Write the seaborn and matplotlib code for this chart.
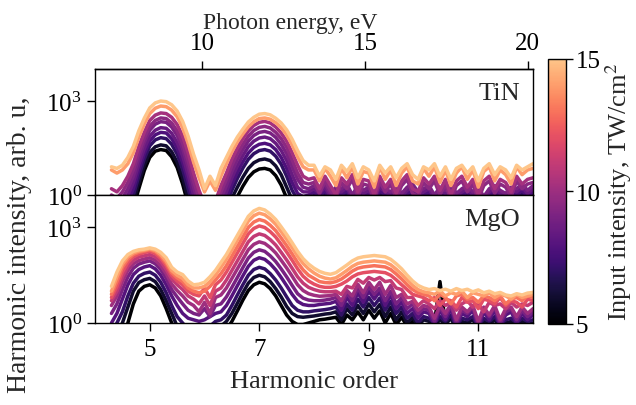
import numpy as np
import pandas as pd
import matplotlib
matplotlib.use("Agg")
import matplotlib.pyplot as plt
from matplotlib.colors import ListedColormap, Normalize
from matplotlib.cm import ScalarMappable
from matplotlib.ticker import NullLocator
import seaborn as sns

# shared sampling grid (harmonic order) for every spectrum
harmonic = np.round(np.arange(4.3, 12.001, 0.1), 1)
ev_per_order = 1.68  # photon energy of one harmonic order, eV

# ---- TiN: log10(signal); segments = H5 | H7 | noise floor ----
tin_intensity = [5, 6, 7, 7.8, 8.5, 9, 9.5, 10.2, 14, 15]
tin_05 = ([-1, -1, -1, -0.8, -0.4, 0.2, 0.78, 1.2, 1.4, 1.45, 1.42, 1.22, 0.88, 0.35, -0.3, -0.8, -1, -1, -1, -1]
          + [-1, -0.8, -0.4, -0.05, 0.28, 0.56, 0.74, 0.83, 0.85, 0.8, 0.62, 0.32, -0.1, -0.5, -0.7, -0.6, -0.5]
          + [-0.3, -0.5, -0.2, -0.5, -0.3, -0.4, -0.2, -0.5, -0.3, -0.4, -0.3, -0.6, -0.2, -0.4, -0.5, -0.3, -0.5,
             -0.3, -0.1, -0.5, -0.4, -0.3, -0.6, -0.3, -0.4, 0.2, 0.0, -0.3, -0.2, -0.5, -0.3, -0.6, -0.4, -0.2,
             -0.4, -0.5, -0.2, -0.4, -0.3, -0.4, -0.3])
tin_06 = ([-1, -1, -0.9, -0.6, -0.2, 0.4, 0.95, 1.36, 1.54, 1.6, 1.57, 1.38, 1.05, 0.55, -0.1, -0.6, -1, -1, -1, -1]
          + [-0.9, -0.5, -0.1, 0.25, 0.57, 0.85, 1.03, 1.12, 1.15, 1.1, 0.93, 0.65, 0.25, -0.15, -0.4, -0.4, -0.3]
          + [-0.1, -0.3, 0.0, -0.35, -0.15, -0.2, 0.0, -0.4, -0.1, -0.25, -0.15, -0.45, 0.0, -0.2, -0.3, -0.1,
             -0.35, -0.15, 0.05, -0.3, -0.2, -0.1, -0.4, -0.15, -0.25, 0.0, -0.35, -0.2, -0.1, -0.3, -0.15, -0.45,
             -0.2, -0.1, -0.25, -0.35, 0.1, -0.2, -0.05, -0.25, -0.1])
tin_07 = ([-0.8, -0.9, -0.7, -0.4, 0.0, 0.6, 1.15, 1.57, 1.76, 1.83, 1.8, 1.62, 1.3, 0.82, 0.2, -0.4, -0.9, -1, -1, -1]
          + [-0.7, -0.3, 0.15, 0.53, 0.86, 1.14, 1.32, 1.42, 1.45, 1.4, 1.24, 0.98, 0.6, 0.15, -0.15, -0.2, -0.15]
          + [0.0, -0.15, 0.05, -0.25, -0.05, -0.1, 0.05, -0.3, 0.0, -0.15, -0.05, -0.35, 0.05, -0.1, -0.2, 0.0,
             -0.25, -0.05, 0.05, -0.2, -0.1, 0.0, -0.3, -0.05, -0.15, 0.05, -0.25, -0.1, 0.0, -0.2, -0.05, -0.35,
             -0.1, 0.0, -0.15, -0.25, -0.05, -0.1, 0.05, -0.15, 0.0])
tin_08 = ([-0.6, -0.7, -0.5, -0.2, 0.2, 0.8, 1.32, 1.73, 1.92, 2.0, 1.98, 1.8, 1.5, 1.05, 0.45, -0.2, -0.7, -0.9, -0.9, -0.8]
          + [-0.5, -0.1, 0.35, 0.73, 1.06, 1.34, 1.52, 1.62, 1.65, 1.6, 1.45, 1.2, 0.85, 0.4, 0.05, -0.05, 0.0]
          + [0.1, -0.05, 0.15, -0.15, 0.05, 0.0, 0.15, -0.2, 0.1, -0.05, 0.05, -0.25, 0.15, 0.0, -0.1, 0.1, -0.15,
             0.05, 0.15, -0.1, 0.0, 0.1, -0.2, 0.05, -0.05, 0.15, -0.15, 0.0, 0.1, -0.1, 0.05, -0.25, 0.0, 0.1,
             -0.05, -0.15, 0.05, 0.0, 0.15, -0.05, 0.1])
tin_085 = ([-0.4, -0.5, -0.3, 0.0, 0.4, 0.98, 1.48, 1.88, 2.07, 2.15, 2.13, 1.97, 1.68, 1.25, 0.65, 0.0, -0.5, -0.7, -0.7, -0.6]
           + [-0.3, 0.1, 0.55, 0.93, 1.26, 1.54, 1.72, 1.82, 1.85, 1.8, 1.65, 1.42, 1.1, 0.65, 0.25, 0.1, 0.1]
           + [0.2, 0.05, 0.25, -0.05, 0.15, 0.1, 0.25, -0.1, 0.2, 0.05, 0.15, -0.15, 0.25, 0.1, 0.0, 0.2, -0.05,
              0.15, 0.25, 0.0, 0.1, 0.2, -0.1, 0.15, 0.05, 0.25, -0.05, 0.1, 0.2, 0.0, 0.15, -0.15, 0.1, 0.2, 0.05,
              -0.05, 0.15, 0.1, 0.25, 0.05, 0.2])
tin_09 = ([-0.2, -0.3, -0.1, 0.2, 0.6, 1.18, 1.68, 2.07, 2.26, 2.34, 2.32, 2.17, 1.9, 1.48, 0.9, 0.25, -0.3, -0.5, -0.5, -0.4]
          + [-0.1, 0.3, 0.75, 1.13, 1.45, 1.72, 1.9, 2.0, 2.03, 1.98, 1.84, 1.62, 1.32, 0.9, 0.5, 0.25, 0.2]
          + [0.3, 0.15, 0.35, 0.05, 0.25, 0.2, 0.35, 0.0, 0.3, 0.15, 0.25, -0.05, 0.35, 0.2, 0.1, 0.3, 0.05, 0.25,
             0.35, 0.1, 0.2, 0.3, 0.0, 0.25, 0.15, 0.35, 0.05, 0.2, 0.3, 0.1, 0.25, -0.05, 0.2, 0.3, 0.15, 0.05,
             0.25, 0.2, 0.35, 0.15, 0.3])
tin_095 = ([0.0, -0.1, 0.1, 0.4, 0.8, 1.35, 1.82, 2.2, 2.38, 2.46, 2.44, 2.3, 2.05, 1.65, 1.1, 0.45, -0.1, -0.4, -0.3, -0.3]
           + [0.1, 0.5, 0.95, 1.32, 1.62, 1.88, 2.06, 2.16, 2.19, 2.14, 2.0, 1.8, 1.52, 1.12, 0.7, 0.4, 0.35]
           + [0.4, 0.05, 0.45, 0.15, -0.1, 0.4, 0.2, 0.5, -0.05, 0.35, 0.3, -0.15, 0.45, 0.1, 0.35, -0.1, 0.3, 0.5,
              0.05, -0.05, 0.4, 0.2, 0.45, 0.0, 0.35, -0.15, 0.3, 0.45, 0.1, 0.35, -0.15, 0.3, 0.45, 0.05, 0.35,
              0.25, -0.05, 0.45, 0.2, 0.35, 0.4])
tin_10 = ([0.2, 0.1, 0.3, 0.6, 1.0, 1.55, 2.0, 2.38, 2.55, 2.62, 2.6, 2.48, 2.25, 1.88, 1.35, 0.7, 0.15, -0.3, -0.1, -0.2]
          + [0.3, 0.7, 1.15, 1.5, 1.8, 2.05, 2.22, 2.32, 2.35, 2.3, 2.17, 1.98, 1.72, 1.35, 0.95, 0.6, 0.5]
          + [0.55, 0.2, 0.6, 0.3, 0.0, 0.55, 0.35, 0.65, 0.1, 0.5, 0.45, 0.0, 0.6, 0.25, 0.5, 0.05, 0.45, 0.65,
             0.2, 0.1, 0.55, 0.35, 0.6, 0.15, 0.5, 0.0, 0.45, 0.6, 0.25, 0.5, 0.0, 0.45, 0.6, 0.2, 0.5, 0.4, 0.1,
             0.6, 0.35, 0.5, 0.55])
tin_14 = ([0.8, 0.7, 0.8, 1.0, 1.35, 1.85, 2.27, 2.6, 2.77, 2.84, 2.82, 2.71, 2.5, 2.15, 1.65, 1.05, 0.55, 0.1, 0.45, 0.15]
          + [0.6, 1.0, 1.38, 1.7, 1.95, 2.18, 2.34, 2.44, 2.46, 2.42, 2.31, 2.15, 1.92, 1.6, 1.22, 0.9, 0.8]
          + [0.8, 0.45, 0.85, 0.6, 0.3, 0.85, 0.55, 0.9, 0.35, 0.75, 0.7, 0.25, 0.9, 0.5, 0.8, 0.3, 0.7, 0.9,
             0.45, 0.35, 0.85, 0.6, 0.9, 0.4, 0.8, 0.3, 0.7, 0.9, 0.5, 0.8, 0.25, 0.75, 0.9, 0.45, 0.8, 0.65, 0.35,
             0.9, 0.65, 0.8, 0.85])
tin_15 = ([0.9, 0.85, 0.95, 1.2, 1.55, 2.05, 2.45, 2.78, 2.94, 3.0, 2.98, 2.88, 2.68, 2.35, 1.88, 1.3, 0.8, 0.2, 0.6, 0.3]
          + [0.85, 1.2, 1.55, 1.85, 2.1, 2.33, 2.48, 2.58, 2.6, 2.56, 2.45, 2.3, 2.08, 1.78, 1.42, 1.1, 0.95]
          + [0.95, 0.6, 0.9, 0.8, 0.5, 0.95, 0.75, 1.0, 0.55, 0.9, 0.8, 0.45, 0.95, 0.7, 0.9, 0.55, 0.85, 1.0,
             0.65, 0.5, 0.9, 0.8, 1.0, 0.6, 0.9, 0.5, 0.85, 0.95, 0.7, 0.9, 0.45, 0.85, 1.0, 0.65, 0.9, 0.8, 0.55,
             0.95, 0.8, 0.9, 1.0])
tin_curves = [tin_05, tin_06, tin_07, tin_08, tin_085, tin_09, tin_095, tin_10, tin_14, tin_15]

# ---- MgO: log10(signal); segments = H5 | valley | H7 | H9 | noise floor ----
mgo_intensity = [5, 6, 7, 8, 9, 10, 11, 12, 13, 14, 15]
mgo_05 = ([-0.8, -0.6, -0.4, 0.0, 0.6, 1.0, 1.15, 1.2, 1.1, 0.85, 0.45, 0.0, -0.4, -0.6, -0.7, -0.8]
          + [-0.8, -0.7, -0.6, -0.5]
          + [-0.4, -0.2, 0.05, 0.38, 0.72, 1.02, 1.2, 1.28, 1.23, 1.08, 0.85, 0.55, 0.25, 0.05, -0.05, -0.05, 0.0,
             0.05, 0.1, 0.12, 0.15]
          + [0.18, -0.05, 0.25, 0.1, 0.35, 0.1, 0.4, 0.15, 0.38, 0.0, 0.3, -0.05, 0.18, -0.1, 0.05, -0.2, -0.05]
          + [-0.1, 0.0, 1.3, 0.0, -0.2, -0.1, -0.3, -0.1, -0.2, 0.0, -0.15, -0.3, -0.1, -0.2, 0.0, -0.25, -0.1,
             -0.2, -0.1, -0.15])
mgo_06 = ([-0.5, -0.3, 0.0, 0.5, 1.0, 1.27, 1.36, 1.4, 1.3, 1.05, 0.7, 0.3, -0.1, -0.3, -0.4, -0.5]
          + [-0.5, -0.4, -0.3, -0.2]
          + [-0.1, 0.05, 0.3, 0.62, 0.95, 1.25, 1.43, 1.5, 1.45, 1.3, 1.08, 0.82, 0.52, 0.3, 0.2, 0.18, 0.2, 0.22,
             0.25, 0.28, 0.3]
          + [0.35, 0.1, 0.45, 0.25, 0.55, 0.3, 0.6, 0.35, 0.58, 0.2, 0.5, 0.1, 0.35, 0.0, 0.18, -0.1, 0.1]
          + [0.05, -0.1, 0.1, -0.05, 0.15, -0.2, 0.05, 0.0, 0.1, -0.2, 0.05, -0.05, 0.1, -0.15, 0.0, 0.05, -0.1,
             0.05, -0.05, 0.0])
mgo_07 = ([-0.3, 0.0, 0.35, 0.85, 1.25, 1.47, 1.56, 1.6, 1.5, 1.28, 0.95, 0.55, 0.2, 0.0, -0.2, -0.3]
          + [-0.3, -0.2, -0.1, 0.05]
          + [0.1, 0.25, 0.55, 0.88, 1.2, 1.5, 1.68, 1.75, 1.7, 1.55, 1.35, 1.1, 0.82, 0.55, 0.4, 0.35, 0.35, 0.38,
             0.4, 0.42, 0.45]
          + [0.5, 0.25, 0.6, 0.4, 0.75, 0.5, 0.8, 0.55, 0.78, 0.4, 0.68, 0.3, 0.5, 0.15, 0.3, 0.0, 0.2]
          + [0.15, 0.0, 0.2, 0.05, 0.25, -0.1, 0.15, 0.1, 0.2, -0.1, 0.15, 0.05, 0.2, -0.05, 0.1, 0.15, 0.0, 0.15,
             0.05, 0.1])
mgo_08 = ([0.0, 0.3, 0.75, 1.2, 1.52, 1.68, 1.76, 1.8, 1.7, 1.5, 1.2, 0.85, 0.55, 0.3, 0.15, 0.1]
          + [0.05, 0.1, 0.2, 0.3]
          + [0.35, 0.55, 0.85, 1.17, 1.48, 1.78, 1.97, 2.05, 2.0, 1.86, 1.67, 1.43, 1.17, 0.9, 0.68, 0.58, 0.55,
             0.55, 0.58, 0.6, 0.62]
          + [0.68, 0.4, 0.8, 0.55, 0.95, 0.65, 1.0, 0.75, 0.98, 0.55, 0.88, 0.45, 0.66, 0.3, 0.45, 0.15, 0.35]
          + [0.3, -0.05, 0.4, 0.1, 0.45, -0.1, 0.3, 0.2, 0.4, -0.15, 0.35, 0.1, 0.4, -0.1, 0.25, 0.35, 0.0, 0.3,
             0.1, 0.25])
mgo_09 = ([0.3, 0.6, 1.05, 1.45, 1.72, 1.85, 1.91, 1.95, 1.86, 1.68, 1.4, 1.05, 0.82, 0.6, 0.4, 0.3]
          + [0.25, 0.45, 0.2, 0.55]
          + [0.6, 0.82, 1.12, 1.43, 1.74, 2.04, 2.22, 2.3, 2.25, 2.11, 1.93, 1.7, 1.45, 1.18, 0.92, 0.78, 0.72,
             0.7, 0.7, 0.72, 0.75]
          + [0.8, 0.55, 0.95, 0.7, 1.1, 0.8, 1.15, 0.9, 1.1, 0.7, 1.0, 0.6, 0.8, 0.45, 0.6, 0.3, 0.45]
          + [0.4, 0.05, 0.5, 0.2, 0.55, 0.0, 0.4, 0.3, 0.5, -0.05, 0.45, 0.2, 0.5, 0.0, 0.35, 0.45, 0.1, 0.4,
             0.2, 0.35])
mgo_10 = ([0.55, 0.85, 1.3, 1.65, 1.86, 1.96, 2.01, 2.05, 1.97, 1.8, 1.55, 1.22, 1.02, 0.85, 0.65, 0.55]
          + [0.35, 0.65, 0.3, 0.8]
          + [0.88, 1.1, 1.4, 1.7, 2.0, 2.3, 2.47, 2.55, 2.5, 2.37, 2.2, 1.97, 1.73, 1.47, 1.2, 1.02, 0.92, 0.87,
             0.84, 0.85, 0.86]
          + [0.9, 0.7, 1.02, 0.85, 1.22, 0.95, 1.28, 1.05, 1.28, 0.9, 1.18, 0.8, 0.9, 0.6, 0.68, 0.4, 0.55]
          + [0.5, 0.15, 0.55, 0.3, 0.6, 0.1, 0.5, 0.35, 0.55, 0.05, 0.5, 0.25, 0.55, 0.1, 0.45, 0.5, 0.2, 0.5,
             0.3, 0.45])
mgo_11 = ([0.7, 1.0, 1.45, 1.78, 1.97, 2.07, 2.11, 2.15, 2.08, 1.93, 1.68, 1.38, 1.2, 1.05, 0.85, 0.75]
          + [0.6, 0.85, 0.55, 1.0]
          + [1.1, 1.35, 1.65, 1.95, 2.25, 2.55, 2.72, 2.8, 2.75, 2.62, 2.45, 2.22, 1.98, 1.72, 1.45, 1.25, 1.12,
             1.05, 1.0, 0.98, 0.98]
          + [1.0, 0.9, 1.15, 1.1, 1.37, 1.25, 1.43, 1.35, 1.43, 1.3, 1.33, 1.1, 1.05, 0.8, 0.8, 0.55, 0.7]
          + [0.6, 0.45, 0.7, 0.55, 0.65, 0.4, 0.6, 0.7, 0.5, 0.6, 0.35, 0.65, 0.55, 0.6, 0.45, 0.65, 0.5, 0.6,
             0.55, 0.65])
mgo_12 = ([0.8, 1.15, 1.6, 1.9, 2.08, 2.16, 2.21, 2.25, 2.18, 2.03, 1.8, 1.5, 1.32, 1.2, 1.0, 0.9]
          + [0.85, 1.1, 0.8, 1.2]
          + [1.35, 1.6, 1.9, 2.2, 2.5, 2.8, 2.97, 3.05, 3.0, 2.87, 2.7, 2.47, 2.23, 1.97, 1.7, 1.47, 1.32, 1.22,
             1.15, 1.12, 1.12]
          + [1.15, 1.22, 1.32, 1.45, 1.54, 1.58, 1.6, 1.62, 1.6, 1.58, 1.5, 1.36, 1.2, 1.05, 0.9, 0.85, 0.8]
          + [0.7, 0.8, 0.55, 0.75, 0.7, 0.5, 0.8, 0.65, 0.7, 0.45, 0.75, 0.7, 0.6, 0.8, 0.55, 0.7, 0.65, 0.5,
             0.75, 0.7])
mgo_13 = ([0.9, 1.3, 1.75, 2.0, 2.15, 2.22, 2.26, 2.3, 2.24, 2.1, 1.88, 1.58, 1.42, 1.3, 1.1, 1.0]
          + [0.95, 1.0, 1.15, 1.35]
          + [1.55, 1.8, 2.1, 2.4, 2.7, 3.0, 3.17, 3.25, 3.2, 3.07, 2.9, 2.67, 2.43, 2.17, 1.9, 1.67, 1.5, 1.4,
             1.3, 1.27, 1.26]
          + [1.3, 1.38, 1.5, 1.63, 1.72, 1.76, 1.78, 1.8, 1.78, 1.76, 1.68, 1.54, 1.38, 1.2, 1.05, 0.95, 0.9]
          + [0.85, 0.7, 0.9, 0.8, 0.6, 0.85, 0.9, 0.75, 0.8, 0.65, 0.85, 0.8, 0.7, 0.85, 0.6, 0.75, 0.8, 0.7,
             0.85, 0.8])
mgo_14 = ([1.0, 1.45, 1.85, 2.08, 2.2, 2.26, 2.29, 2.33, 2.28, 2.15, 1.95, 1.65, 1.5, 1.4, 1.2, 1.1]
          + [1.1, 1.15, 1.3, 1.5]
          + [1.75, 2.0, 2.3, 2.6, 2.9, 3.2, 3.37, 3.45, 3.4, 3.27, 3.1, 2.87, 2.63, 2.37, 2.1, 1.87, 1.7, 1.57,
             1.47, 1.41, 1.38]
          + [1.42, 1.53, 1.65, 1.78, 1.87, 1.91, 1.93, 1.95, 1.93, 1.91, 1.83, 1.69, 1.53, 1.35, 1.18, 1.05, 0.98]
          + [0.95, 0.9, 1.0, 0.85, 0.95, 0.9, 1.0, 0.8, 0.95, 0.9, 0.85, 0.95, 0.8, 0.9, 0.85, 0.75, 0.9, 0.8,
             0.85, 0.9])
mgo_15 = ([1.15, 1.6, 1.95, 2.15, 2.25, 2.3, 2.32, 2.36, 2.32, 2.22, 2.05, 1.75, 1.6, 1.52, 1.32, 1.2]
          + [1.22, 1.28, 1.45, 1.65]
          + [1.9, 2.15, 2.45, 2.75, 3.05, 3.35, 3.52, 3.6, 3.55, 3.42, 3.25, 3.02, 2.78, 2.52, 2.25, 2.02, 1.85,
             1.72, 1.62, 1.56, 1.53]
          + [1.58, 1.7, 1.82, 1.95, 2.04, 2.08, 2.1, 2.12, 2.1, 2.08, 2.0, 1.86, 1.7, 1.5, 1.32, 1.18, 1.1]
          + [1.05, 1.08, 1.02, 1.06, 1.0, 1.08, 1.02, 1.06, 0.98, 1.04, 0.95, 1.0, 0.92, 0.96, 0.88, 0.85, 0.92,
             0.88, 0.94, 0.96])
mgo_curves = [mgo_05, mgo_06, mgo_07, mgo_08, mgo_09, mgo_10, mgo_11, mgo_12, mgo_13, mgo_14, mgo_15]


def to_frame(intensities, curves):
    """Long-form table: one row per (intensity, harmonic order) sample."""
    parts = []
    for level, log_signal in zip(intensities, curves):
        assert len(log_signal) == len(harmonic), (level, len(log_signal))
        parts.append(pd.DataFrame({
            "order": harmonic,
            "signal": 10.0 ** np.asarray(log_signal),
            "intensity": level,
        }))
    return pd.concat(parts, ignore_index=True)


sns.set_style("ticks")
plt.rcParams.update({
    "font.family": ["Liberation Serif", "DejaVu Serif"],
    "mathtext.fontset": "stix",
    "font.size": 18,
    "axes.edgecolor": "black",
    "axes.linewidth": 1.0,
    "xtick.color": "black",
    "ytick.color": "black",
    "xtick.direction": "out",
    "ytick.direction": "out",
    "xtick.major.size": 6,
    "ytick.major.size": 6,
    "xtick.major.width": 1.0,
    "ytick.major.width": 1.0,
    "xtick.major.pad": 5,
})

cmap = ListedColormap(plt.cm.magma(np.linspace(0.0, 0.88, 256)))
norm = Normalize(5, 15)

fig = plt.figure(figsize=(6.36, 4.06), dpi=100)
ax_tin = fig.add_axes([0.1494, 0.5172, 0.6887, 0.3103])
ax_mgo = fig.add_axes([0.1494, 0.2020, 0.6887, 0.3153])
cax = fig.add_axes([0.8616, 0.2000, 0.0283, 0.6527])

panels = [(ax_tin, tin_intensity, tin_curves, "TiN"),
          (ax_mgo, mgo_intensity, mgo_curves, "MgO")]
for ax, levels, curves, name in panels:
    sns.lineplot(data=to_frame(levels, curves), x="order", y="signal", hue="intensity",
                 palette=cmap, hue_norm=(5, 15), estimator=None, linewidth=2.5,
                 legend=False, ax=ax)
    ax.set_yscale("log")
    ax.set_ylim(1, 1.05e4)
    ax.set_xlim(4, 12)
    ax.set_yticks([1, 1e3])
    ax.yaxis.set_minor_locator(NullLocator())
    ax.set_xticks([5, 7, 9, 11])
    ax.set_xlabel("")
    ax.set_ylabel("")
    ax.text(0.97, 0.81, name, transform=ax.transAxes, ha="right", va="center", fontsize=19)

ax_tin.tick_params(labelbottom=False)
ax_mgo.set_xticklabels(["5", "7", "9", "11"])
ax_mgo.set_xlabel("Harmonic order", fontsize=19, labelpad=7)

top = ax_tin.secondary_xaxis("top", functions=(lambda h: h * ev_per_order,
                                               lambda e: e / ev_per_order))
top.set_xticks([10, 15, 20])
top.set_xlabel("Photon energy, eV", fontsize=17, labelpad=3)
top.xaxis.label.set_x(0.445)

fig.text(0.031, 0.397, "Harmonic intensity, arb. u,", rotation=90,
         ha="center", va="center", fontsize=20)

cbar = fig.colorbar(ScalarMappable(norm=norm, cmap=cmap), cax=cax, ticks=[5, 10, 15])
cbar.outline.set_linewidth(1.0)
cbar.ax.tick_params(length=5, pad=2)
cbar.set_label("Input intensity, TW/cm$^2$", fontsize=19, labelpad=2)

fig.savefig("out.png", dpi=100)
